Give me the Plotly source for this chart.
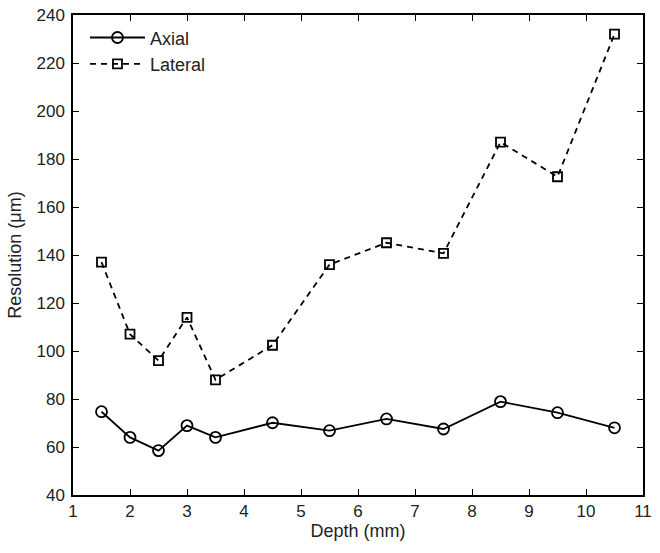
import plotly.graph_objects as go

depth = [1.5, 2.0, 2.5, 3.0, 3.5, 4.5, 5.5, 6.5, 7.5, 8.5, 9.5, 10.5]
axial = [74.7, 64.0, 58.5, 68.9, 64.0, 70.1, 66.8, 71.7, 67.5, 78.9, 74.3, 68.0]
lateral = [137, 107, 96, 114, 88, 102.4, 136, 145.1, 140.7, 187, 172.6, 232]

x_ticks = list(range(1, 12))
y_ticks = list(range(40, 241, 20))

fig = go.Figure()
fig.add_trace(go.Scatter(
    x=depth, y=axial, name="Axial", mode="lines+markers",
    line=dict(color="black", width=1.8),
    marker=dict(symbol="circle-open", size=11, color="black", line=dict(width=1.8)),
))
fig.add_trace(go.Scatter(
    x=depth, y=lateral, name="Lateral", mode="lines+markers",
    line=dict(color="black", width=1.8, dash="6px,5px"),
    marker=dict(symbol="square-open", size=9, color="black", line=dict(width=1.8)),
))

axis_common = dict(
    showgrid=False, zeroline=False, showline=True, linecolor="black", linewidth=1.5,
    mirror="ticks", ticks="inside", ticklen=6, tickwidth=1, tickcolor="black",
    automargin=False,
    tickfont=dict(family="Liberation Sans, Arial", size=17, color="#222"),
    title_font=dict(family="Liberation Sans, Arial", size=18, color="#222"),
)

fig.update_layout(
    width=660, height=553,
    margin=dict(l=73, r=17, t=15, b=58),
    paper_bgcolor="white", plot_bgcolor="white",
    xaxis=dict(range=[1, 11], tickvals=x_ticks, title=dict(text="Depth (mm)", standoff=0), **axis_common),
    yaxis=dict(range=[40, 240], tickvals=y_ticks, ticklabelstandoff=3,
               title=dict(text="Resolution (μm)", standoff=10), **axis_common),
    legend=dict(x=0.021, y=0.991, xanchor="left", yanchor="top", bgcolor="rgba(0,0,0,0)",
                font=dict(family="Liberation Sans, Arial", size=18, color="#222"),
                itemwidth=55, tracegroupgap=0),
    showlegend=True,
)

fig.write_html("out.html", config={"displayModeBar": False},
               post_script="document.body.style.margin='0';document.body.style.overflow='hidden';")
